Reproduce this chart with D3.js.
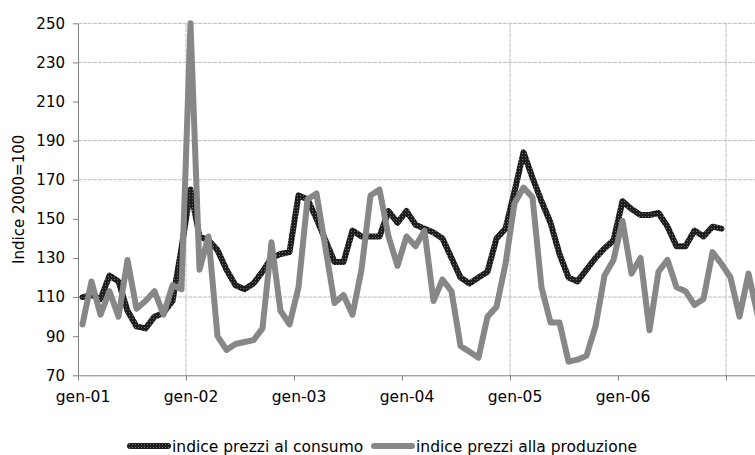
<!DOCTYPE html>
<html>
<head>
<meta charset="utf-8">
<script src="https://cdn.jsdelivr.net/npm/d3@7"></script>
<style>
  html, body { margin: 0; padding: 0; background: #fff; }
  svg { display: block; font-family: "DejaVu Sans", Verdana, sans-serif; }
</style>
</head>
<body>
<svg id="chart" width="755" height="455"></svg>
<script>
// ---- data ----
const yearLabels = ["gen-01", "gen-02", "gen-03", "gen-04", "gen-05", "gen-06"];
const consumo = [
  110, 111, 109, 121, 118, 103, 95, 94, 100, 102, 108, 135,
  165, 141, 139, 134, 124, 116, 114, 117, 123, 130, 132, 133,
  162, 160, 150, 139, 128, 128, 144, 141, 141, 141, 154, 148,
  154, 147, 145, 143, 140, 130, 120, 117, 120, 123, 140, 145,
  164, 184, 171, 159, 148, 132, 120, 118, 124, 130, 135, 139,
  159, 155, 152, 152, 153, 146, 136, 136, 144, 141, 146, 145
];
const produzione = [
  96, 118, 101, 113, 100, 129, 104, 108, 113, 101, 116, 114,
  250, 124, 141, 90, 83, 86, 87, 88, 94, 138, 103, 96,
  115, 160, 163, 135, 107, 111, 101, 124, 162, 165, 141, 126,
  141, 136, 144, 108, 119, 113, 85, 82, 79, 100, 105, 127,
  158, 166, 161, 115, 97, 97, 77, 78, 80, 95, 121, 129,
  149, 122, 130, 93, 123, 129, 115, 113, 106, 109, 133, 127,
  120, 100, 122, 101
];
const yTicks = [70, 90, 110, 130, 150, 170, 190, 210, 230, 250];
const hGridValues = [250, 230, 190, 170, 110];
const vGridMonths = [11.5, 47.5, 71.5];
const seriesNames = ["indice prezzi al consumo", "indice prezzi alla produzione"];
const yTitle = "Indice 2000=100";

// ---- layout ----
const svg = d3.select("#chart");
const mLeft = 78, mTop = 23.3, mBottom = 375.3;
const x = d3.scaleLinear().domain([-0.5, 75.5]).range([mLeft, mLeft + 76 * 9]);
const y = d3.scaleLinear().domain([70, 250]).range([mBottom, mTop]);

// pattern for dotted dark line
const defs = svg.append("defs");
const pat = defs.append("pattern").attr("id", "dots")
  .attr("width", 3).attr("height", 3).attr("patternUnits", "userSpaceOnUse");
pat.append("rect").attr("width", 3).attr("height", 3).attr("fill", "#1e1e1e");
pat.append("rect").attr("width", 1).attr("height", 1).attr("fill", "#707070");

// horizontal gridlines
svg.append("g").selectAll("line").data(hGridValues).join("line")
  .attr("x1", mLeft).attr("x2", 755)
  .attr("y1", d => y(d)).attr("y2", d => y(d))
  .attr("stroke", "#bdbdbd").attr("stroke-width", 1)
  .attr("stroke-dasharray", "4,1");

// vertical gridlines
svg.append("g").selectAll("line").data(vGridMonths).join("line")
  .attr("x1", d => x(d)).attr("x2", d => x(d))
  .attr("y1", mTop).attr("y2", mBottom)
  .attr("stroke", "#bdbdbd").attr("stroke-width", 1)
  .attr("stroke-dasharray", "4,1");

// y axis
const yAxis = svg.append("g").attr("transform", `translate(${mLeft},0)`)
  .call(d3.axisLeft(y).tickValues(yTicks).tickSize(5).tickSizeOuter(0).tickPadding(8));
yAxis.select(".domain").attr("stroke", "#808080");
yAxis.selectAll(".tick line").attr("stroke", "#808080");
yAxis.selectAll("text").attr("font-size", 15).attr("fill", "#000")
  .attr("font-family", "DejaVu Sans, Verdana, sans-serif");

// x axis (ticks at year boundaries)
const boundaryTicks = d3.range(0, 7).map(k => k * 12 - 0.5);
const xAxis = svg.append("g").attr("transform", `translate(0,${mBottom})`)
  .call(d3.axisBottom(x).tickValues(boundaryTicks).tickSize(5).tickSizeOuter(0).tickFormat(""));
xAxis.select(".domain").attr("stroke", "#808080");
xAxis.selectAll(".tick line").attr("stroke", "#808080");

// x labels (centered on January)
const labelAxis = svg.append("g").attr("transform", `translate(0,${mBottom})`)
  .call(d3.axisBottom(x).tickValues(yearLabels.map((d, i) => i * 12))
    .tickFormat((d, i) => yearLabels[i]).tickSize(0).tickPadding(16));
labelAxis.select(".domain").remove();
labelAxis.selectAll("text").attr("font-size", 15.5).attr("fill", "#000")
  .attr("font-family", "DejaVu Sans, Verdana, sans-serif");

// y title
svg.append("text")
  .attr("transform", `translate(24,${(mTop + mBottom) / 2}) rotate(-90)`)
  .attr("text-anchor", "middle")
  .attr("font-size", 15).attr("fill", "#000")
  .text(yTitle);

// lines
const line = d3.line().x((d, i) => x(i)).y(d => y(d));
svg.append("path").datum(consumo)
  .attr("d", line).attr("fill", "none")
  .attr("stroke", "url(#dots)").attr("stroke-width", 6)
  .attr("stroke-linejoin", "round").attr("stroke-linecap", "round");
svg.append("path").datum(produzione)
  .attr("d", line).attr("fill", "none")
  .attr("stroke", "#878787").attr("stroke-width", 6)
  .attr("stroke-linejoin", "round").attr("stroke-linecap", "round");

// legend
const legY = 446;
const leg = svg.append("g");
const legItems = [
  { name: seriesNames[0], stroke: "url(#dots)", x0: 130 },
  { name: seriesNames[1], stroke: "#878787", x0: 374 }
];
legItems.forEach(it => {
  leg.append("line").attr("x1", it.x0).attr("x2", it.x0 + 38)
    .attr("y1", legY).attr("y2", legY)
    .attr("stroke", it.stroke).attr("stroke-width", 6).attr("stroke-linecap", "round");
  leg.append("text").attr("x", it.x0 + 42).attr("y", legY + 5.5)
    .attr("font-size", 15.5).attr("fill", "#000").text(it.name);
});
</script>
</body>
</html>
